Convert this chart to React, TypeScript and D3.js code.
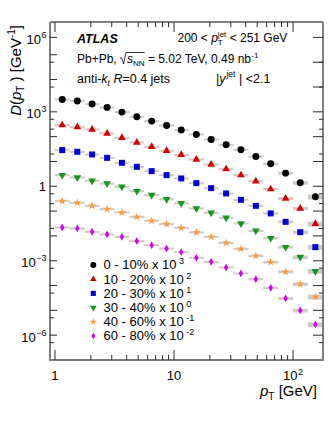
import React from 'react';
import * as d3 from 'd3';

const W = 332, H = 430;
const FONT = "'Liberation Sans', Arial, Helvetica, sans-serif";

// track pT bins
const pTCenters = [1.15, 1.54, 2.05, 2.74, 3.65, 4.87, 6.49, 8.66, 11.5, 15.4, 20.5, 27.4, 36.5, 48.7, 64.9, 86.6, 115, 154];
const pTEdges = [1, 1.33, 1.78, 2.37, 3.16, 4.22, 5.62, 7.5, 10, 13.3, 17.8, 23.7, 31.6, 42.2, 56.2, 75, 100, 133, 178];

// D(pT) values (unscaled), per centrality
const D_0_10 = [3.17, 2.71, 2.05, 1.51, 0.975, 0.631, 0.423, 0.284, 0.184, 0.123, 0.0774, 0.0469, 0.0295, 0.016, 0.00804, 0.00339, 0.00138, 0.000376];
const D_10_20 = [2.92, 2.43, 1.96, 1.35, 0.897, 0.586, 0.389, 0.269, 0.185, 0.121, 0.076, 0.0492, 0.0282, 0.0161, 0.00769, 0.00324, 0.00128, 0.000307];
const D_20_30 = [2.87, 2.45, 1.92, 1.4, 0.883, 0.608, 0.408, 0.282, 0.207, 0.134, 0.0843, 0.0515, 0.0284, 0.0163, 0.00805, 0.0037, 0.00142, 0.000353];
const D_30_40 = [2.82, 2.28, 1.66, 1.3, 0.951, 0.638, 0.441, 0.303, 0.206, 0.128, 0.0851, 0.0536, 0.0318, 0.016, 0.00815, 0.00353, 0.0014, 0.00038];
const D_40_60 = [2.52, 2.15, 1.63, 1.2, 0.883, 0.587, 0.406, 0.299, 0.212, 0.138, 0.0918, 0.0521, 0.0301, 0.0157, 0.00877, 0.00356, 0.00114, 0.000351];
const D_60_80 = [2.2, 2.0, 1.46, 1.15, 0.918, 0.617, 0.425, 0.313, 0.222, 0.131, 0.0902, 0.0537, 0.0308, 0.0181, 0.00807, 0.00302, 0.000991, 0.00027];

// relative systematic uncertainty per bin
const sysRel = [0.08, 0.08, 0.07, 0.07, 0.07, 0.07, 0.07, 0.07, 0.07, 0.07, 0.08, 0.08, 0.09, 0.1, 0.11, 0.13, 0.16, 0.22];

const centralities = ['0 - 10%', '10 - 20%', '20 - 30%', '30 - 40%', '40 - 60%', '60 - 80%'];
const scaleExp = [3, 2, 1, 0, -1, -2];
const seriesValues = [D_0_10, D_10_20, D_20_30, D_30_40, D_40_60, D_60_80];
const colors = ['#000000', '#d40000', '#0000d4', '#12991a', '#ff9a3c', '#d400f4'];
const markerTypes = ['circle', 'triUp', 'square', 'triDown', 'star', 'diamond'];

const xTickMajor = [1, 10, 100];
const xTickMinor = [2, 3, 4, 5, 6, 7, 8, 9, 20, 30, 40, 50, 60, 70, 80, 90];
const xTickLabels = [{ v: 1, base: '1', exp: '' }, { v: 10, base: '10', exp: '' }, { v: 100, base: '10', exp: '2' }];
const yTickLabels = [{ v: 1e6, exp: '6' }, { v: 1e3, exp: '3' }, { v: 1, exp: '' }, { v: 1e-3, exp: '\u22123' }, { v: 1e-6, exp: '\u22126' }];
const yTickLong = [1e6, 1e3, 1, 1e-3, 1e-6, 2e5, 2e4, 100, 10, 0.1, 0.01, 1e-4, 1e-5];
const yTickShort = [1e5, 1e4, 500, 200, 20, 0.5, 0.2, 0.02, 5e-4, 5e-5, 5e-6, 5e-7];
const yDecades = [1e6, 1e5, 1e4, 1e3, 100, 10, 1, 0.1, 0.01, 1e-3, 1e-4, 1e-5, 1e-6];

let _ctx: CanvasRenderingContext2D | null = null;
function tw(t: string, size: number, italic?: boolean, bold?: boolean) {
  if (!_ctx) _ctx = document.createElement('canvas').getContext('2d');
  if (!_ctx) return t.length * size * 0.55;
  _ctx.font = `${italic ? 'italic ' : ''}${bold ? 'bold ' : ''}${size}px ${FONT}`;
  return _ctx.measureText(t).width;
}

type Seg = { t?: string; s?: number; o?: number; i?: boolean; b?: boolean; noAdv?: boolean; ol?: boolean; sqrt?: boolean; gap?: number };

function Rich({ x, y, segs, anchor = 'start', fill = '#000' }: { x: number; y: number; segs: Seg[]; anchor?: string; fill?: string }) {
  let cx = 0;
  const items: any[] = [];
  let olStart: number | null = null;
  let olEnd = 0;
  let sqrtX: number | null = null;
  segs.forEach((s, k) => {
    if (s.gap) { cx += s.gap; return; }
    if (s.sqrt) { sqrtX = cx; cx += 7; return; }
    const w = tw(s.t || '', s.s || 12, s.i, s.b);
    items.push({ ...s, x: cx, k });
    if (s.ol) { if (olStart === null) olStart = cx; olEnd = cx + w; }
    if (!s.noAdv) cx += w;
  });
  const x0 = anchor === 'end' ? x - cx : anchor === 'middle' ? x - cx / 2 : x;
  return (
    <g>
      {items.map((it) => (
        <text key={it.k} x={x0 + it.x} y={y + (it.o || 0)} fontSize={it.s || 12} fontStyle={it.i ? 'italic' : 'normal'}
          fontWeight={it.b ? 'bold' : 'normal'} fontFamily={FONT} fill={fill} xmlSpace="preserve"
          style={{ whiteSpace: 'pre' }}>{it.t}</text>
      ))}
      {sqrtX !== null && olStart !== null && (
        <path d={`M${x0 + sqrtX},${y - 4} L${x0 + sqrtX + 1.5},${y - 5} L${x0 + sqrtX + 3.5},${y + 1.5} L${x0 + sqrtX + 6},${y - 10} L${x0 + olEnd},${y - 10}`}
          fill="none" stroke={fill} strokeWidth={0.8} />
      )}
    </g>
  );
}

function markerPath(type: string) {
  switch (type) {
    case 'circle': return d3.symbol().type(d3.symbolCircle).size(38)() as string;
    case 'triUp': return d3.symbol().type(d3.symbolTriangle).size(26)() as string;
    case 'triDown': return d3.symbol().type(d3.symbolTriangle).size(26)() as string;
    case 'square': return d3.symbol().type(d3.symbolSquare).size(36)() as string;
    case 'star': return d3.symbol().type(d3.symbolStar).size(21)() as string;
    case 'diamond': return d3.symbol().type(d3.symbolDiamond).size(17)() as string;
  }
  return '';
}

export default function App() {
  const left = 50, right = 323, top = 22, bottom = 360;
  const x = d3.scaleLog().domain([0.908, 178.5]).range([left, right]);
  const y = d3.scaleLog().domain([1e-7, 4.17e6]).range([bottom, top]);
  const axisColor = '#7f7f7f';
  const tickColor = '#2a2a2a';

  const scaled = seriesValues.map((arr, si) => arr.map((v) => v * Math.pow(10, scaleExp[si])));

  return (
    <svg width={W} height={H} style={{ position: 'absolute', left: 0, top: 0, background: '#fff' }} fontFamily={FONT}>
      <defs>
        <clipPath id="plotclip"><rect x={left} y={top} width={right - left} height={bottom - top} /></clipPath>
      </defs>
      <rect x={0} y={0} width={W} height={H} fill="#fff" />

      {/* systematic boxes */}
      <g clipPath="url(#plotclip)">
        {scaled.map((arr, si) => arr.map((v, i) => {
          const y1 = y(v * (1 + sysRel[i]));
          const y2 = y(v * (1 - sysRel[i]));
          const h = Math.max(2, y2 - y1);
          const yc = (y1 + y2) / 2;
          return <rect key={`b${si}-${i}`} x={x(pTEdges[i])} y={yc - h / 2} width={x(pTEdges[i + 1]) - x(pTEdges[i])}
            height={h} fill="#c9c0b7" opacity={0.85} />;
        }))}
      </g>

      {/* markers */}
      <g clipPath="url(#plotclip)">
        {scaled.map((arr, si) => arr.map((v, i) => (
          <path key={`m${si}-${i}`} d={markerPath(markerTypes[si])}
            transform={`translate(${x(pTCenters[i])},${y(v)})${markerTypes[si] === 'triDown' ? ' rotate(180)' : ''}`}
            fill={colors[si]} />
        )))}
      </g>

      {/* frame */}
      <line x1={left} x2={right} y1={top} y2={top} stroke="#000" strokeWidth={1} />
      <line x1={left} x2={left} y1={top} y2={bottom} stroke={axisColor} strokeWidth={2} />
      <line x1={right} x2={right} y1={top} y2={bottom} stroke={axisColor} strokeWidth={2} />
      <line x1={left - 1} x2={right + 1} y1={bottom} y2={bottom} stroke={axisColor} strokeWidth={2} />

      {/* x ticks */}
      {xTickMajor.map((v) => (
        <g key={`xM${v}`}>
          <line x1={x(v)} x2={x(v)} y1={bottom} y2={bottom - 10} stroke={tickColor} strokeWidth={1} />
          <line x1={x(v)} x2={x(v)} y1={top} y2={top + 10} stroke={tickColor} strokeWidth={1} />
        </g>
      ))}
      {xTickMinor.map((v) => (
        <g key={`xm${v}`}>
          <line x1={x(v)} x2={x(v)} y1={bottom} y2={bottom - 5} stroke={tickColor} strokeWidth={1} />
          <line x1={x(v)} x2={x(v)} y1={top} y2={top + 5} stroke={tickColor} strokeWidth={1} />
        </g>
      ))}

      {/* y ticks */}
      {yTickLong.map((v) => (
        <line key={`yL${v}`} x1={left} x2={left + 7} y1={y(v)} y2={y(v)} stroke={tickColor} strokeWidth={1} />
      ))}
      {yTickShort.map((v) => (
        <g key={`yS${v}`}>
          <line x1={left} x2={left + 4} y1={y(v)} y2={y(v)} stroke={tickColor} strokeWidth={1} />
          <line x1={right} x2={right - 4} y1={y(v)} y2={y(v)} stroke={tickColor} strokeWidth={1} />
        </g>
      ))}
      {yDecades.map((v) => (
        <line key={`yD${v}`} x1={right} x2={right - 10} y1={y(v)} y2={y(v)} stroke={tickColor} strokeWidth={1} />
      ))}

      {/* x tick labels */}
      {xTickLabels.map((t) => (
        <Rich key={`xl${t.v}`} x={x(t.v)} y={379.5} anchor="middle"
          segs={t.exp ? [{ t: t.base, s: 13 }, { gap: 0.5 }, { t: t.exp, s: 9, o: -5 }] : [{ t: t.base, s: 13 }]} />
      ))}

      {/* y tick labels */}
      {yTickLabels.map((t) => (
        t.exp ? (
          <Rich key={`yl${t.v}`} x={46.5} y={y(t.v) + 6.5} anchor="end"
            segs={[{ t: '10', s: 13 }, { gap: 0.5 }, { t: t.exp, s: 9, o: -6 }]} />
        ) : (
          <Rich key={`yl${t.v}`} x={46} y={y(t.v) + 4.5} anchor="end" segs={[{ t: '1', s: 13 }]} />
        )
      ))}

      {/* axis titles */}
      <Rich x={317} y={395.5} anchor="end" segs={[{ t: 'p', s: 15, i: true }, { t: 'T', s: 10, o: 4 }, { t: ' [GeV]', s: 15 }]} />
      <g transform="translate(20.5,25) rotate(-90)">
        <Rich x={0} y={0} anchor="end"
          segs={[{ t: 'D', s: 15, i: true }, { t: '(', s: 15 }, { t: 'p', s: 15, i: true }, { t: 'T', s: 10, o: 3.5 }, { t: ' )', s: 15 },
            { t: ' [GeV', s: 15 }, { t: '-1', s: 10, o: -6 }, { t: ']', s: 15 }]} />
      </g>

      {/* annotations */}
      <Rich x={77} y={43} segs={[{ t: 'ATLAS', s: 12.5, b: true, i: true }]} />
      <Rich x={177.5} y={41.5}
        segs={[{ t: '200 < ', s: 12 }, { t: 'p', s: 12, i: true }, { t: 'T', s: 8, o: 3, noAdv: true }, { t: 'jet', s: 8, o: -5 }, { t: ' < 251 GeV', s: 12 }]} />
      <Rich x={77} y={62.5}
        segs={[{ t: 'Pb+Pb, ', s: 12 }, { sqrt: true }, { t: 's', s: 12, i: true, ol: true }, { t: 'NN', s: 8, o: 3, ol: true },
          { t: ' = 5.02 TeV, 0.49 nb', s: 12 }, { t: '-1', s: 8, o: -5 }]} />
      <Rich x={77} y={83}
        segs={[{ t: 'anti-', s: 12.5 }, { t: 'k', s: 12.5, i: true }, { t: 't', s: 8.5, o: 3, i: true }, { t: ' ', s: 12.5 },
          { t: 'R', s: 12.5, i: true }, { t: '=0.4 jets', s: 12.5 }]} />
      <Rich x={216} y={83}
        segs={[{ t: '|', s: 12.5 }, { t: 'y', s: 12.5, i: true }, { gap: 1 }, { t: 'jet', s: 8.5, o: -6 }, { t: ' | <2.1', s: 12.5 }]} />

      {/* legend */}
      {centralities.map((c, si) => {
        const ly = 265 + si * 14.2;
        return (
          <g key={`lg${si}`}>
            <path d={markerPath(markerTypes[si])} transform={`translate(93.3,${ly})${markerTypes[si] === 'triDown' ? ' rotate(180)' : ''} scale(0.85)`}
              fill={colors[si]} />
            <Rich x={103.5} y={ly + 4.3}
              segs={[{ t: `${c} x 10`, s: 13 }, { gap: 2.5 }, { t: scaleExp[si] < 0 ? `-${-scaleExp[si]}` : `${scaleExp[si]}`, s: 9, o: -5 }]} />
          </g>
        );
      })}
    </svg>
  );
}
